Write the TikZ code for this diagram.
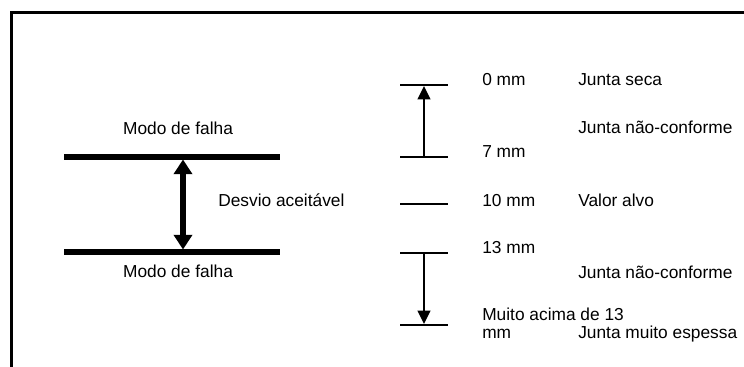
\documentclass[tikz,border=0pt]{standalone}
\usepackage{fontspec}
\setmainfont{Liberation Sans}
\usetikzlibrary{arrows.meta}
\begin{document}
\begin{tikzpicture}[x=0.75pt,y=-0.75pt,
  lbl/.style={inner sep=0pt,anchor=base west,font=\fontsize{13}{15.6}\selectfont},
  clbl/.style={inner sep=0pt,anchor=base,font=\fontsize{13}{15.6}\selectfont},
  frameline/.style={line width=1.9pt},
  limitline/.style={line width=4.2pt},
  spanarrow/.style={line width=3.8pt,{Triangle[width=13.5pt,length=11pt]}-{Triangle[width=13.5pt,length=11pt]}},
  tickline/.style={line width=1.5pt},
  rangearrow/.style={line width=1.5pt,-{Triangle[width=9.5pt,length=10pt]}}]
\useasboundingbox (0,0) rectangle (744,367);
% outer frame (top and left edges)
\coordinate (fbl) at (11.5,367);
\coordinate (ftl) at (11.5,12.5);
\coordinate (ftr) at (744,12.5);
\draw[frameline] (fbl) -- (ftl) -- (ftr);

% left: tolerance band between two failure modes
\coordinate (upL) at (64,157);
\coordinate (upR) at (280,157);
\coordinate (loL) at (64,252);
\coordinate (loR) at (280,252);
\draw[limitline] (upL) -- (upR);
\draw[limitline] (loL) -- (loR);
\coordinate (spanTop) at (183,159.5);
\coordinate (spanBot) at (183,249.5);
\draw[spanarrow] (spanTop) -- (spanBot);
\node[clbl] (modeTop) at (178,135) {Modo de falha};
\node[clbl] (modeBot) at (178,278) {Modo de falha};
\node[lbl] (desvio) at (218,207) {Desvio aceitável};

% right: thickness scale
\coordinate (t0L) at (400,85);   \coordinate (t0R) at (448,85);
\coordinate (t7L) at (400,157);  \coordinate (t7R) at (448,157);
\coordinate (t10L) at (400,204); \coordinate (t10R) at (448,204);
\coordinate (t13L) at (400,253); \coordinate (t13R) at (448,253);
\coordinate (tmL) at (400,325);  \coordinate (tmR) at (448,325);
\foreach \t in {t0,t7,t10,t13,tm}
  \draw[tickline] (\t L) -- (\t R);
\coordinate (a7) at (424,157);
\coordinate (a0) at (424,86);
\coordinate (a13) at (424,253);
\coordinate (am) at (424,324);
\draw[rangearrow] (a7) -- (a0);
\draw[rangearrow] (a13) -- (am);

\node[lbl] (mm0) at (482,86) {0 mm};
\node[lbl] (mm7) at (482,157.5) {7 mm};
\node[lbl] (mm10) at (482,207) {10 mm};
\node[lbl] (mm13) at (482,254) {13 mm};
\node[lbl] (mmHigh) at (482,321) {Muito acima de 13};
\node[lbl] (mmUnit) at (482,339) {mm};

\node[lbl] (seca) at (578,86) {Junta seca};
\node[lbl] (nc1) at (578,134) {Junta não-conforme};
\node[lbl] (alvo) at (578,207) {Valor alvo};
\node[lbl] (nc2) at (578,279) {Junta não-conforme};
\node[lbl] (espessa) at (578,339) {Junta muito espessa};
\end{tikzpicture}
\end{document}
